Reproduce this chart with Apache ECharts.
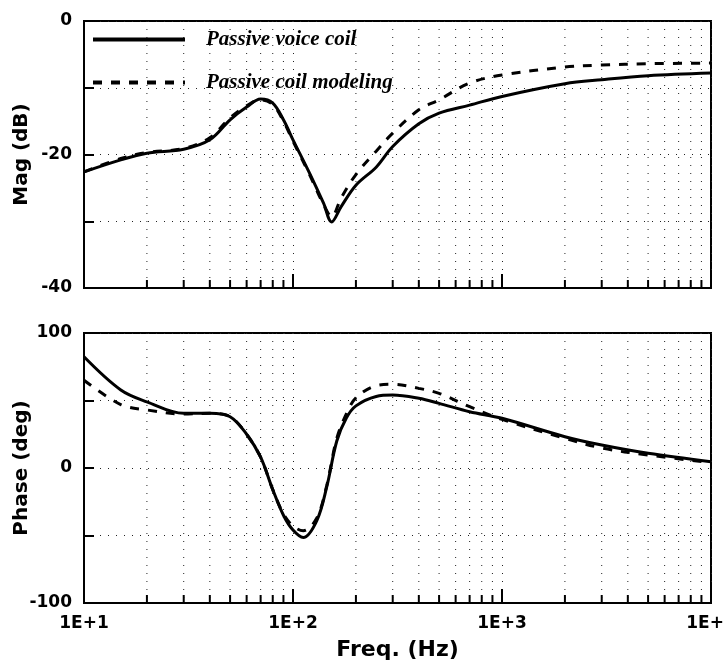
<!DOCTYPE html>
<html>
<head>
<meta charset="utf-8">
<script src="https://cdn.jsdelivr.net/npm/echarts@6/dist/echarts.min.js"></script>
<style>
  html, body { margin: 0; padding: 0; background: #fff; }
  #chart { width: 724px; height: 660px; }
</style>
</head>
<body>
<div id="chart"></div>
<script>
// 幅值图数据 (dB)
var magFreq = [10, 15, 20, 30, 40, 50, 60, 70, 80, 90, 100, 120, 140, 153, 170, 200, 250, 300, 400, 500, 700, 1000, 2000, 3000, 5000, 10000];
var magCoil = [-22.6, -20.8, -19.8, -19.2, -17.8, -14.8, -12.9, -11.7, -12.3, -14.8, -17.8, -22.8, -27.3, -30.1, -27.8, -24.6, -21.9, -18.8, -15.4, -13.8, -12.6, -11.3, -9.4, -8.8, -8.2, -7.8];
var magModel = [-22.6, -20.6, -19.7, -19.1, -17.5, -14.5, -12.7, -11.8, -12.5, -15.0, -18.0, -23.0, -27.5, -29.3, -26.5, -23.0, -19.5, -16.8, -13.3, -11.8, -9.3, -8.1, -6.9, -6.6, -6.4, -6.3];

// 相位图数据 (deg)
var phaseFreq = [10, 15, 20, 30, 40, 50, 60, 70, 80, 90, 100, 112, 130, 145, 162, 180, 200, 250, 300, 400, 500, 700, 1000, 2000, 3000, 5000, 10000];
var phaseCoil = [82.4, 57.8, 49, 40.5, 40.5, 38, 25, 8, -16, -35, -46, -51.5, -39, -14, 20, 37, 46, 53, 54, 51.6, 47.9, 41.7, 36.8, 23.2, 17, 10.9, 4.7];
var phaseModel = [65, 47, 43, 40, 40.5, 38, 25, 8, -16, -34, -43, -46.5, -37, -13, 22, 40, 52, 61, 62, 59, 55.3, 45.4, 36, 22, 14.8, 9.6, 4];

// 刻度
var xTickLabels = {10: '1E+1', 100: '1E+2', 1000: '1E+3', 10000: '1E+4'};
var minorFreq = [20, 30, 40, 50, 60, 70, 80, 90, 200, 300, 400, 500, 600, 700, 800, 900, 2000, 3000, 4000, 5000, 6000, 7000, 8000, 9000];
var magRange = [-40, 0];
var phaseRange = [-100, 100];

function pairs(xs, ys) {
    var out = [];
    for (var i = 0; i < xs.length; i++) {
        out.push([xs[i], ys[i]]);
    }
    return out;
}

var labelFont = {fontFamily: 'DejaVu Sans', fontWeight: 'bold', fontSize: 17, color: '#000'};
var dotted = {color: '#222', width: 1, type: [1, 7]};

function xAxisOf(idx, showLabel) {
    return {
        type: 'log', logBase: 10, gridIndex: idx, min: 10, max: 10000,
        axisLine: {show: true, onZero: false, lineStyle: {color: '#000', width: 2}},
        axisTick: {show: true, inside: true, length: 14, lineStyle: {color: '#000', width: 2}},
        axisLabel: {show: showLabel, margin: 12, fontFamily: 'DejaVu Sans', fontWeight: 'bold', fontSize: 17, color: '#000',
            formatter: function (v) { return xTickLabels[Math.round(v)] || ''; }},
        splitLine: {show: true, lineStyle: dotted},
        name: showLabel ? 'Freq. (Hz)' : '',
        nameLocation: 'middle', nameGap: 36, nameMoveOverlap: false,
        nameTextStyle: {fontFamily: 'DejaVu Sans', fontWeight: 'bold', fontSize: 22, color: '#000'}
    };
}

function yAxisOf(idx, range, step, labelStep, name) {
    return {
        type: 'value', gridIndex: idx, min: range[0], max: range[1], interval: step,
        axisLine: {show: true, onZero: false, lineStyle: {color: '#000', width: 2}},
        axisTick: {show: true, inside: true, length: 10, lineStyle: {color: '#000', width: 2}},
        axisLabel: Object.assign({margin: 12, formatter: function (v) { return v % labelStep === 0 ? String(v) : ''; }}, labelFont),
        splitLine: {show: true, lineStyle: dotted},
        name: name, nameLocation: 'middle', nameGap: 52, nameMoveOverlap: false,
        nameTextStyle: {fontFamily: 'DejaVu Sans', fontWeight: 'bold', fontSize: 20, color: '#000'}
    };
}

// 次刻度的竖向点线和底部短刻度
function minorSeries(idx, range) {
    return {
        type: 'custom', xAxisIndex: idx, yAxisIndex: idx, silent: true, z: 1,
        data: minorFreq.map(function (f) { return [f]; }),
        renderItem: function (params, api) {
            var top = api.coord([api.value(0), range[1]]);
            var bot = api.coord([api.value(0), range[0]]);
            return {
                type: 'group',
                children: [
                    {type: 'line', shape: {x1: top[0], y1: top[1], x2: bot[0], y2: bot[1]},
                        style: {stroke: '#222', lineWidth: 1, lineDash: [1, 7]}},
                    {type: 'line', shape: {x1: bot[0], y1: bot[1], x2: bot[0], y2: bot[1] - 8},
                        style: {stroke: '#000', lineWidth: 2}}
                ]
            };
        }
    };
}

function curve(name, idx, data, dashed) {
    return {
        name: name, type: 'line', xAxisIndex: idx, yAxisIndex: idx,
        data: data, smooth: 0.35, symbol: 'none', z: 5,
        lineStyle: {color: '#000', width: 3, type: dashed ? [9, 9] : 'solid'},
        itemStyle: {color: '#000'}
    };
}

var chart = echarts.init(document.getElementById('chart'));
chart.setOption({
    backgroundColor: '#fff',
    animation: false,
    grid: [
        {left: 84, right: 13, top: 21, height: 267, outerBoundsMode: 'none', show: true, borderColor: '#000', borderWidth: 2},
        {left: 84, right: 13, top: 333, height: 270, outerBoundsMode: 'none', show: true, borderColor: '#000', borderWidth: 2}
    ],
    legend: {
        left: 86, top: 24, orient: 'vertical',
        itemWidth: 92, itemHeight: 20, itemGap: 22,
        data: ['Passive voice coil', 'Passive coil modeling'],
        itemStyle: {opacity: 0},
        lineStyle: {width: 4},
        textStyle: {fontFamily: 'Liberation Serif', fontStyle: 'italic', fontWeight: 'bold', fontSize: 21, color: '#000', padding: [0, 0, 0, 16]}
    },
    xAxis: [xAxisOf(0, false), xAxisOf(1, true)],
    yAxis: [
        yAxisOf(0, magRange, 10, 20, 'Mag (dB)'),
        yAxisOf(1, phaseRange, 50, 100, 'Phase (deg)')
    ],
    series: [
        minorSeries(0, magRange),
        minorSeries(1, phaseRange),
        curve('Passive voice coil', 0, pairs(magFreq, magCoil), false),
        curve('Passive coil modeling', 0, pairs(magFreq, magModel), true),
        curve('Passive voice coil', 1, pairs(phaseFreq, phaseCoil), false),
        curve('Passive coil modeling', 1, pairs(phaseFreq, phaseModel), true)
    ]
});
</script>
</body>
</html>
